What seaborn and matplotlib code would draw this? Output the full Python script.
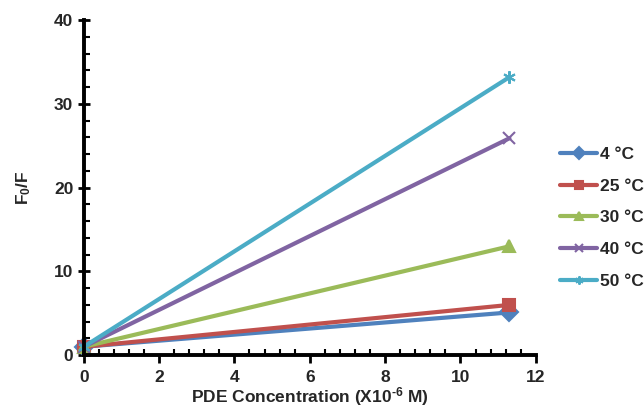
import pandas as pd
import seaborn as sns
import matplotlib.pyplot as plt
from matplotlib.ticker import MultipleLocator

# Data
temperatures = ["4 °C", "25 °C", "30 °C", "40 °C", "50 °C"]
concentration = [0, 11.3]  # PDE concentration (x10^-6 M)
f0_over_f = {
    "4 °C": [1.0, 5.1],
    "25 °C": [1.0, 6.0],
    "30 °C": [1.0, 13.0],
    "40 °C": [1.0, 25.9],
    "50 °C": [1.0, 33.2],
}

colors = ["#4F81BD", "#C0504D", "#9BBB59", "#8064A2", "#4BACC6"]
markers = ["D", "s", "^", "x", (6, 2, 0)]

sns.set_style("ticks")
plt.rcParams["font.family"] = ["Liberation Sans", "DejaVu Sans"]
plt.rcParams["font.weight"] = "bold"
plt.rcParams["mathtext.fontset"] = "custom"
plt.rcParams["mathtext.rm"] = "Liberation Sans:bold"
plt.rcParams["mathtext.it"] = "Liberation Sans:bold"
plt.rcParams["mathtext.bf"] = "Liberation Sans:bold"
plt.rcParams["mathtext.default"] = "rm"

fig = plt.figure(figsize=(6.44, 4.12), dpi=100)
ax = fig.add_axes([0.130, 0.138, 0.702, 0.813])

for t, c, m in zip(temperatures, colors, markers):
    df = pd.DataFrame({"conc": concentration, "ratio": f0_over_f[t]})
    sns.lineplot(data=df, x="conc", y="ratio", color=c, marker=m,
                 markersize=9, markeredgewidth=1.5, markeredgecolor=c,
                 linewidth=3, label=t, ax=ax)

ax.set_xlim(0, 12)
ax.set_ylim(0, 40)
ax.xaxis.set_major_locator(MultipleLocator(2))
ax.xaxis.set_minor_locator(MultipleLocator(0.4))
ax.yaxis.set_major_locator(MultipleLocator(10))
ax.yaxis.set_minor_locator(MultipleLocator(2))
ax.tick_params(axis="y", which="major", direction="inout", length=9, width=2,
               labelsize=12.5, pad=3, color="black")
ax.tick_params(axis="x", which="major", direction="out", length=6, width=2,
               labelsize=12.5, pad=5, color="black")
ax.tick_params(which="minor", direction="in", length=4, width=1.5, color="black")

sns.despine(ax=ax)
for side in ["left", "bottom"]:
    ax.spines[side].set_linewidth(2.8)
    ax.spines[side].set_color("black")
for line in ax.lines:
    line.set_clip_on(False)

ax.set_xlabel("PDE Concentration (X10$^{\\text{-}6}$ M)", fontsize=12.5,
              fontweight="bold", labelpad=0)
ax.set_ylabel("F$_0$/F", fontsize=12.5, fontweight="bold", labelpad=15)

leg = ax.legend(loc="center left", bbox_to_anchor=(1.02, 0.41),
                frameon=False, handlelength=2.1, handletextpad=0.15,
                labelspacing=0.95, markerscale=0.65,
                prop={"weight": "bold", "size": 12.5})

fig.savefig("out.png", dpi=100)
